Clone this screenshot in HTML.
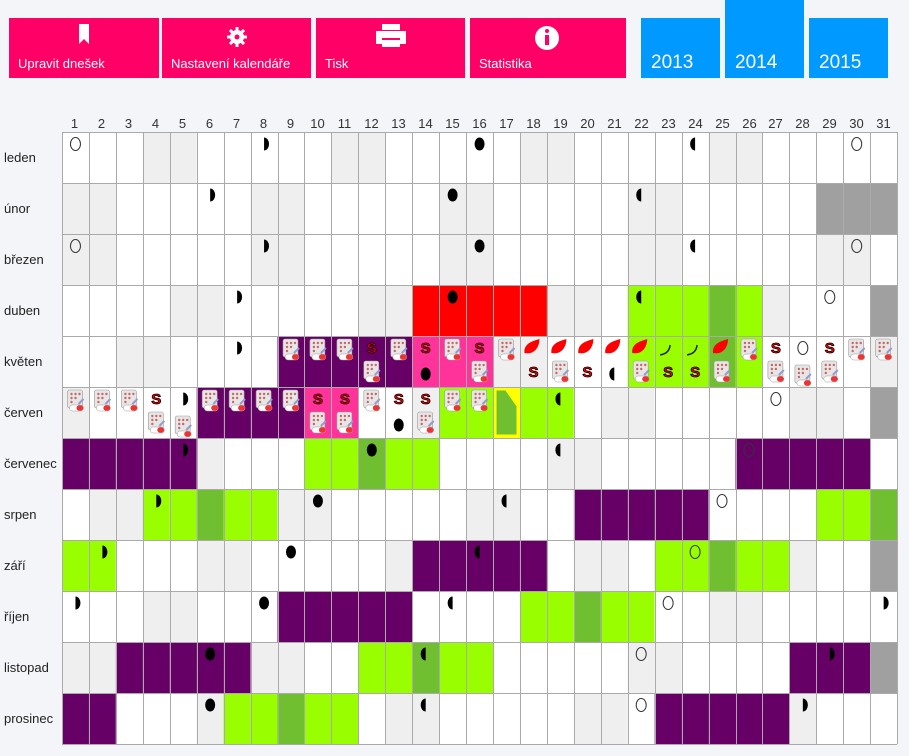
<!DOCTYPE html>
<html><head><meta charset="utf-8"><style>
body{margin:0;width:909px;height:756px;background:#f4f5f9;font-family:"Liberation Sans",sans-serif;position:relative;overflow:hidden}
.b{position:absolute;top:18px;height:60px;background:#ff0066;color:#fff;font-size:13px}
.b span{position:absolute;left:9px;top:38px}
.y{position:absolute;background:#0099ff;color:#fff;font-size:19px}
.y span{position:absolute;left:10px;bottom:4px}
.d{position:absolute;top:116px;font-size:13px;color:#333;width:27px;text-align:center}
.m{position:absolute;left:4px;font-size:13px;color:#222}
svg{position:absolute;left:0;top:0}
</style></head><body>
<div class="b" style="left:9px;width:150px"><svg width="150" height="60"><path d="M70 6h10v20l-5-5-5 5z" fill="#fff"/></svg><span>Upravit dnešek</span></div>
<div class="b" style="left:162px;width:149px"><svg width="149" height="60"><circle cx="75" cy="19" r="7" fill="#fff"/><g fill="#fff"><rect x="73.5" y="9" width="3" height="20"/><rect x="65" y="17.5" width="20" height="3"/><rect x="73.5" y="9" width="3" height="20" transform="rotate(45 75 19)"/><rect x="73.5" y="9" width="3" height="20" transform="rotate(-45 75 19)"/></g><circle cx="75" cy="19" r="2.5" fill="#ff0066"/></svg><span>Nastavení kalendáře</span></div>
<div class="b" style="left:316px;width:149px"><svg width="149" height="60"><rect x="66" y="6" width="18" height="6" fill="#fff"/><rect x="60" y="13" width="30" height="13" fill="#fff"/><rect x="66" y="20" width="18" height="2" fill="#ff0066"/><rect x="66" y="24" width="18" height="5" fill="#fff"/></svg><span>Tisk</span></div>
<div class="b" style="left:470px;width:156px"><svg width="156" height="60"><circle cx="77" cy="20" r="12" fill="#fff"/><rect x="75" y="17" width="4" height="10" fill="#ff0066"/><circle cx="77" cy="13" r="2" fill="#ff0066"/></svg><span>Statistika</span></div>
<div class="y" style="left:641px;top:18px;width:79px;height:60px"><span>2013</span></div>
<div class="y" style="left:725px;top:0;width:79px;height:78px"><span>2014</span></div>
<div class="y" style="left:809px;top:18px;width:79px;height:60px"><span>2015</span></div>
<div id="days"><div class="d" style="left:61px">1</div><div class="d" style="left:88px">2</div><div class="d" style="left:115px">3</div><div class="d" style="left:142px">4</div><div class="d" style="left:169px">5</div><div class="d" style="left:196px">6</div><div class="d" style="left:223px">7</div><div class="d" style="left:250px">8</div><div class="d" style="left:277px">9</div><div class="d" style="left:304px">10</div><div class="d" style="left:331px">11</div><div class="d" style="left:358px">12</div><div class="d" style="left:385px">13</div><div class="d" style="left:412px">14</div><div class="d" style="left:439px">15</div><div class="d" style="left:466px">16</div><div class="d" style="left:493px">17</div><div class="d" style="left:520px">18</div><div class="d" style="left:547px">19</div><div class="d" style="left:574px">20</div><div class="d" style="left:601px">21</div><div class="d" style="left:628px">22</div><div class="d" style="left:655px">23</div><div class="d" style="left:682px">24</div><div class="d" style="left:709px">25</div><div class="d" style="left:736px">26</div><div class="d" style="left:762px">27</div><div class="d" style="left:789px">28</div><div class="d" style="left:816px">29</div><div class="d" style="left:843px">30</div><div class="d" style="left:870px">31</div></div>
<div class="m" style="top:150px">leden</div><div class="m" style="top:201px">únor</div><div class="m" style="top:252px">březen</div><div class="m" style="top:303px">duben</div><div class="m" style="top:354px">květen</div><div class="m" style="top:405px">červen</div><div class="m" style="top:456px">červenec</div><div class="m" style="top:507px">srpen</div><div class="m" style="top:558px">září</div><div class="m" style="top:609px">říjen</div><div class="m" style="top:660px">listopad</div><div class="m" style="top:711px">prosinec</div>
<svg id="g" width="909" height="756" style="top:0;left:0;pointer-events:none"></svg>
<script>
var X0=62,CW=26.94,Y0=132,RH=51;
var rows=["wwwggwwwwwggwwwwwggwwwwwggwwwww","ggwwwwwggwwwwwggwwwwwggwwwwwDDD","ggwwwwwggwwwwwggwwwwwggwwwwwggw","wwwwggwwwwwggRRRRRggwLLLGLgwwwD","wwggwwwwPPPPPKKKggwwwLLLGLwwwwg","gwwwwPPPPKKwwgLLYLLwggwwwwwggwD","PPPPPgwwwLLGLLwwwwggwwwwwPPPPPw","wggLLGLLggwwwwwggwwPPPPPwwwwLLG","LLwwwggwwwwwgPPPPPwggwLLGLLgwwD","wwwggwwwPPPPPwwwwLLGLLwwggwwwww","ggPPPPPggwwLLGLLwwwwwggwwwwPPPD","PPwwwgLLGLLwggwwwwwggwPPPPPgwww"];
var C={w:"#fff",g:"#efefef",D:"#a0a0a0",P:"#660066",K:"#ff3399",R:"#ff0000",L:"#99ff00",G:"#70bf30",Y:"#ffff00"};
var s="";
rows.forEach(function(r,i){for(var j=0;j<31;j++){var x=X0+j*CW,y=Y0+i*RH;s+='<rect x="'+x.toFixed(1)+'" y="'+y+'" width="'+CW.toFixed(2)+'" height="'+RH+'" fill="'+C[r[j]]+'"/>';}});
for(var j=0;j<=31;j++){var x=Math.round(X0+j*CW)+0.5;s+='<line x1="'+x+'" y1="'+Y0+'" x2="'+x+'" y2="'+(Y0+12*RH)+'" stroke="#aaa"/>';}
for(var i=0;i<=12;i++){var y=Y0+i*RH+0.5;s+='<line x1="'+X0+'" y1="'+y+'" x2="'+(X0+31*CW)+'" y2="'+y+'" stroke="#aaa"/>';}
var yx=X0+16*CW,yy=Y0+5*RH;
s+='<rect x="'+(yx+3)+'" y="'+(yy+3)+'" width="'+(CW-6)+'" height="'+(RH-6)+'" fill="#70bf30" stroke="#ffff00" stroke-width="1"/><polygon points="'+(yx+12)+','+(yy+3)+' '+(yx+CW-3)+','+(yy+3)+' '+(yx+CW-3)+','+(yy+20)+'" fill="#ffff00"/>';
function cx(c){return X0+(c-0.5)*CW;}
function moon(r,c,t,bot){var x=cx(c),y=Y0+r*RH+(bot?38:12);
 if(t=="o")return '<ellipse cx="'+x+'" cy="'+y+'" rx="5" ry="6.5" fill="none" stroke="#333" stroke-width="1"/>';
 if(t=="n")return '<ellipse cx="'+x+'" cy="'+y+'" rx="5" ry="6.5" fill="#000"/>';
 if(t=="f")return '<path d="M'+x+' '+(y-6.5)+'a5 6.5 0 0 1 0 13z" fill="#000"/>';
 return '<path d="M'+x+' '+(y-6.5)+'a5 6.5 0 0 0 0 13z" fill="#000"/>';}
var M=[[0,1,"o"],[0,8,"f"],[0,16,"n"],[0,24,"l"],[0,30,"o"],[1,6,"f"],[1,15,"n"],[1,22,"l"],[2,1,"o"],[2,8,"f"],[2,16,"n"],[2,24,"l"],[2,30,"o"],[3,7,"f"],[3,15,"n"],[3,22,"l"],[3,29,"o"],[4,7,"f"],[4,14,"n",1],[4,21,"l",1],[4,28,"o"],[5,5,"f"],[5,13,"n",1],[5,19,"l"],[5,27,"o"],[6,5,"f"],[6,12,"n"],[6,19,"l"],[6,26,"o"],[7,4,"f"],[7,10,"n"],[7,17,"l"],[7,25,"o"],[8,2,"f"],[8,9,"n"],[8,16,"l"],[8,24,"o"],[9,1,"f"],[9,8,"n"],[9,15,"l"],[9,23,"o"],[9,31,"f"],[10,6,"n"],[10,14,"l"],[10,22,"o"],[10,29,"f"],[11,6,"n"],[11,14,"l"],[11,22,"o"],[11,28,"f"]];
M.forEach(function(m){s+=moon(m[0],m[1],m[2],m[3]);});
function pill(r,c,bot,dy){var x=cx(c)-9,y=Y0+r*RH+(bot?25:3)+(dy||0);
 return '<g transform="translate('+x.toFixed(1)+','+y+')"><rect x="1" y="0" width="15" height="18" rx="2" fill="#e6e6e6" stroke="#999" stroke-width=".6"/><g fill="#c66"><circle cx="5" cy="4" r="1.2"/><circle cx="9" cy="4" r="1.2"/><circle cx="13" cy="4" r="1.2"/><circle cx="5" cy="8" r="1.2"/><circle cx="9" cy="8" r="1.2"/><circle cx="5" cy="12" r="1.2"/></g><rect x="3" y="15" width="14" height="6" rx="3" fill="#fff" stroke="#999" stroke-width=".5"/><rect x="10" y="15.3" width="6.8" height="5.4" rx="2.7" fill="#e33"/><path d="M12 14l5-5" stroke="#99c" stroke-width="2"/></g>';}
function S(r,c,bot){var x=cx(c),y=Y0+r*RH+(bot?41:17);return '<text x="'+x+'" y="'+y+'" text-anchor="middle" font-family="Liberation Sans,sans-serif" font-weight="bold" font-size="15" fill="#f00" stroke="#000" stroke-width=".8">S</text>';}
function drop(r,c){var x=cx(c),y=Y0+r*RH+9;return '<path d="M'+(x-9)+' '+(y+8)+'c-1-10 9-12 15-14 0 8-5 16-15 14z" fill="#f00"/>';}
function tail(r,c){var x=cx(c),y=Y0+r*RH+5;return '<path d="M'+(x-8)+' '+(y+14)+'c4-1 9-2 10-10" fill="none" stroke="#222" stroke-width="1.5"/>';}
var I=[[4,9,"p"],[4,10,"p"],[4,11,"p"],[4,12,"S"],[4,12,"P"],[4,13,"p"],[4,14,"S"],[4,15,"p"],[4,16,"S"],[4,16,"P"],[4,17,"p"],[4,18,"d"],[4,18,"s"],[4,19,"d"],[4,19,"P"],[4,20,"d"],[4,20,"s"],[4,21,"d"],[4,22,"d"],[4,22,"P"],[4,23,"t"],[4,23,"s"],[4,24,"t"],[4,24,"s"],[4,25,"d"],[4,25,"P"],[4,26,"p"],[4,27,"S"],[4,27,"P"],[4,28,"Q"],[4,29,"S"],[4,29,"P"],[4,30,"p"],[4,31,"p"],
[5,1,"p"],[5,2,"p"],[5,3,"p"],[5,4,"S"],[5,4,"P"],[5,5,"Q"],[5,6,"p"],[5,7,"p"],[5,8,"p"],[5,9,"p"],[5,10,"S"],[5,10,"P"],[5,11,"S"],[5,11,"P"],[5,12,"p"],[5,13,"S"],[5,14,"S"],[5,14,"P"],[5,15,"p"],[5,16,"p"]];
I.forEach(function(a){var r=a[0],c=a[1],t=a[2];
 if(t=="p")s+=pill(r,c,0);else if(t=="P")s+=pill(r,c,1);else if(t=="Q")s+=pill(r,c,1,4);
 else if(t=="S")s+=S(r,c,0);else if(t=="s")s+=S(r,c,1);else if(t=="d")s+=drop(r,c);else s+=tail(r,c);});
document.getElementById("g").innerHTML=s;
</script>
</body></html>
